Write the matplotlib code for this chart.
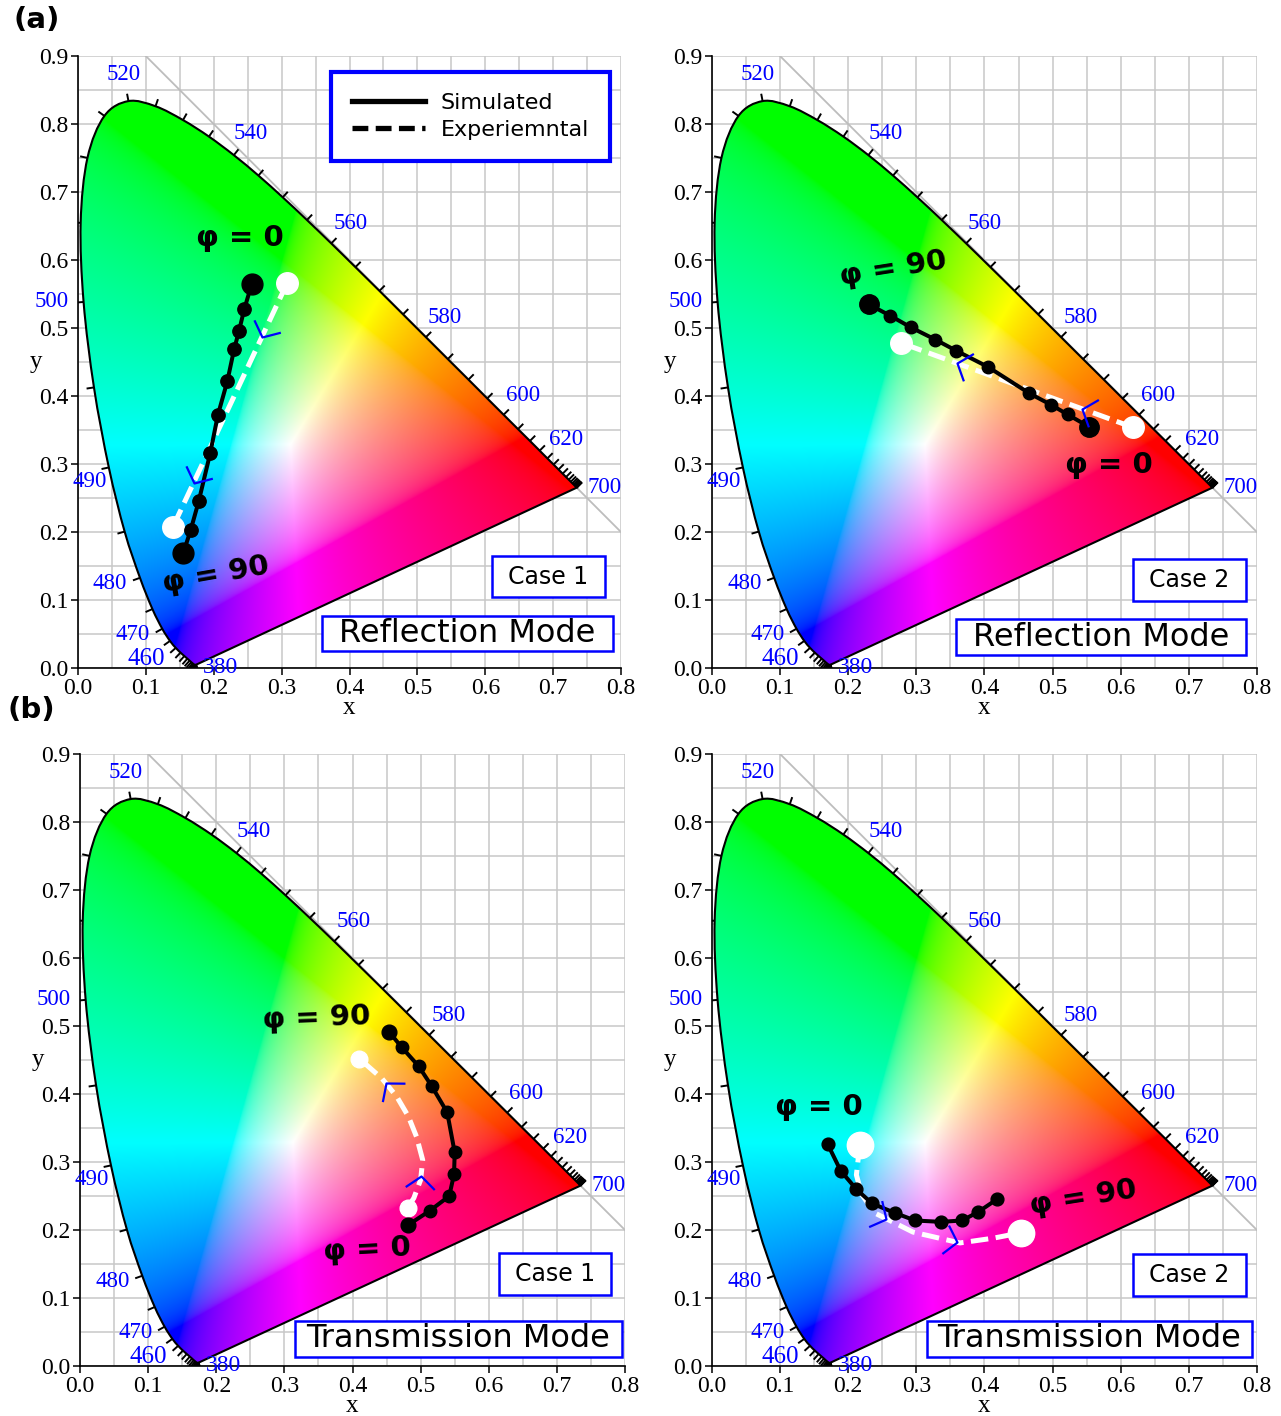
import numpy as np
import matplotlib.pyplot as plt
from matplotlib.path import Path
from matplotlib.patches import PathPatch, Rectangle
from matplotlib.markers import MarkerStyle
from matplotlib.transforms import Affine2D
from matplotlib.lines import Line2D
from matplotlib.collections import LineCollection
from matplotlib.ticker import MultipleLocator, FormatStrFormatter

plt.rcParams["font.family"] = ["Liberation Serif", "DejaVu Serif"]
SANS = "DejaVu Sans"

# CIE 1931 2-degree spectral locus, 380-700 nm every 5 nm
wavelengths = list(range(380, 705, 5))
locus_x = [0.1741, 0.1740, 0.1738, 0.1736, 0.1733, 0.1730, 0.1726, 0.1721, 0.1714,
           0.1703, 0.1689, 0.1669, 0.1644, 0.1611, 0.1566, 0.1510, 0.1440, 0.1355,
           0.1241, 0.1096, 0.0913, 0.0687, 0.0454, 0.0235, 0.0082, 0.0039, 0.0139,
           0.0389, 0.0743, 0.1142, 0.1547, 0.1929, 0.2296, 0.2658, 0.3016, 0.3373,
           0.3731, 0.4087, 0.4441, 0.4788, 0.5125, 0.5448, 0.5752, 0.6029, 0.6270,
           0.6482, 0.6658, 0.6801, 0.6915, 0.7006, 0.7079, 0.7140, 0.7190, 0.7230,
           0.7260, 0.7283, 0.7300, 0.7311, 0.7320, 0.7327, 0.7334, 0.7340, 0.7344,
           0.7346, 0.7347]
locus_y = [0.0050, 0.0050, 0.0049, 0.0049, 0.0048, 0.0048, 0.0048, 0.0048, 0.0051,
           0.0058, 0.0069, 0.0086, 0.0109, 0.0138, 0.0177, 0.0227, 0.0297, 0.0399,
           0.0578, 0.0868, 0.1327, 0.2007, 0.2950, 0.4127, 0.5384, 0.6548, 0.7502,
           0.8120, 0.8338, 0.8262, 0.8059, 0.7816, 0.7543, 0.7243, 0.6923, 0.6589,
           0.6245, 0.5896, 0.5547, 0.5202, 0.4866, 0.4544, 0.4242, 0.3965, 0.3725,
           0.3514, 0.3340, 0.3197, 0.3083, 0.2993, 0.2920, 0.2859, 0.2809, 0.2770,
           0.2740, 0.2717, 0.2700, 0.2689, 0.2680, 0.2673, 0.2666, 0.2660, 0.2656,
           0.2654, 0.2653]
locus_labels = [380, 460, 470, 480, 490, 500, 520, 540, 560, 580, 600, 620, 700]

# trajectories, ordered from phi = 0 to phi = 90
refl1_sim_x = [0.256, 0.245, 0.237, 0.230, 0.220, 0.206, 0.195, 0.178, 0.166, 0.155]
refl1_sim_y = [0.565, 0.528, 0.495, 0.469, 0.422, 0.372, 0.317, 0.246, 0.203, 0.169]
refl1_exp_x = [0.308, 0.140]
refl1_exp_y = [0.566, 0.208]

refl2_sim_x = [0.553, 0.522, 0.498, 0.466, 0.405, 0.358, 0.328, 0.292, 0.262, 0.230]
refl2_sim_y = [0.355, 0.373, 0.387, 0.404, 0.443, 0.467, 0.483, 0.501, 0.518, 0.535]
refl2_exp_x = [0.618, 0.278]
refl2_exp_y = [0.354, 0.478]

trans1_sim_x = [0.481, 0.513, 0.542, 0.549, 0.550, 0.539, 0.516, 0.497, 0.472, 0.454]
trans1_sim_y = [0.207, 0.228, 0.250, 0.282, 0.314, 0.373, 0.412, 0.441, 0.469, 0.491]
trans1_exp_x = [0.481, 0.490, 0.500, 0.503, 0.494, 0.482, 0.465, 0.443, 0.410]
trans1_exp_y = [0.233, 0.247, 0.274, 0.303, 0.337, 0.367, 0.396, 0.423, 0.452]

trans2_sim_x = [0.170, 0.189, 0.212, 0.235, 0.269, 0.298, 0.336, 0.367, 0.390, 0.418]
trans2_sim_y = [0.326, 0.287, 0.260, 0.239, 0.225, 0.214, 0.212, 0.214, 0.226, 0.245]
trans2_exp_x = [0.217, 0.212, 0.220, 0.239, 0.295, 0.364, 0.413, 0.454]
trans2_exp_y = [0.325, 0.281, 0.252, 0.225, 0.197, 0.181, 0.188, 0.196]

panels = [
    dict(rect=[0.0609, 0.5282, 0.4239, 0.4322],
         sim=(refl1_sim_x, refl1_sim_y), exp=(refl1_exp_x, refl1_exp_y),
         ms=(15, 9.6, 15.5), arrows=(0.22, 0.82),
         phi0=(0.239, 0.632, 0), phi90=(0.203, 0.137, 10),
         case="Case 1", case_box=(0.762, 0.116, 0.970, 0.183),
         mode="Reflection Mode", mode_box=(0.449, 0.028, 0.985, 0.085), legend=True),
    dict(rect=[0.5558, 0.5282, 0.4254, 0.4322],
         sim=(refl2_sim_x, refl2_sim_y), exp=(refl2_exp_x, refl2_exp_y),
         ms=(14, 9, 15.5), arrows=(0.22, 0.76),
         phi0=(0.582, 0.299, 0), phi90=(0.266, 0.588, 9),
         case="Case 2", case_box=(0.772, 0.110, 0.980, 0.178),
         mode="Reflection Mode", mode_box=(0.448, 0.021, 0.980, 0.080), legend=False),
    dict(rect=[0.0625, 0.0353, 0.4254, 0.4322],
         sim=(trans1_sim_x, trans1_sim_y), exp=(trans1_exp_x, trans1_exp_y),
         ms=(10.6, 9, 12), arrows=(0.2, 0.79),
         phi0=(0.421, 0.171, 3), phi90=(0.347, 0.512, 2),
         case="Case 1", case_box=(0.769, 0.116, 0.974, 0.185),
         mode="Transmission Mode", mode_box=(0.394, 0.015, 0.994, 0.074), legend=False),
    dict(rect=[0.5558, 0.0353, 0.4254, 0.4322],
         sim=(trans2_sim_x, trans2_sim_y), exp=(trans2_exp_x, trans2_exp_y),
         ms=(9.2, 9.2, 19), arrows=(0.38, 0.71),
         phi0=(0.157, 0.381, 0), phi90=(0.545, 0.247, 9),
         case="Case 2", case_box=(0.772, 0.114, 0.980, 0.183),
         mode="Transmission Mode", mode_box=(0.394, 0.015, 0.991, 0.074), legend=False),
]


def chromaticity_rgb(nx=640, ny=720):
    xs = np.linspace(0, 0.8, nx)
    ys = np.linspace(0, 0.9, ny)
    X, Y = np.meshgrid(xs, ys)
    Yc = np.maximum(Y, 1e-4)
    XYZ = np.stack([X / Yc, np.ones_like(X), (1 - X - Y) / Yc], axis=-1)
    M = np.array([[3.2406, -1.5372, -0.4986],
                  [-0.9689, 1.8758, 0.0415],
                  [0.0557, -0.2040, 1.0570]])
    rgb = np.clip(XYZ @ M.T, 0, None)
    rgb = rgb / (rgb.max(axis=-1, keepdims=True) + 1e-12)
    rgb = np.where(rgb <= 0.0031308, 12.92 * rgb, 1.055 * rgb ** (1 / 2.4) - 0.055)
    return np.clip(rgb, 0, 1)


def smooth_locus_path(xs, ys):
    # Catmull-Rom curve through the locus points, closed by the purple line
    P = np.column_stack([xs, ys])
    n = len(P)
    verts = [P[0]]
    codes = [Path.MOVETO]
    for i in range(n - 1):
        p0 = P[max(i - 1, 0)]
        p1, p2 = P[i], P[i + 1]
        p3 = P[min(i + 2, n - 1)]
        verts += [p1 + (p2 - p0) / 6, p2 - (p3 - p1) / 6, p2]
        codes += [Path.CURVE4] * 3
    verts += [P[0], P[0]]
    codes += [Path.LINETO, Path.CLOSEPOLY]
    return Path(verts, codes)


def point_along(xs, ys, frac):
    xs, ys = np.asarray(xs), np.asarray(ys)
    seg = np.hypot(np.diff(xs), np.diff(ys))
    cum = np.concatenate([[0], np.cumsum(seg)])
    s = frac * cum[-1]
    i = int(np.clip(np.searchsorted(cum, s) - 1, 0, len(seg) - 1))
    t = (s - cum[i]) / seg[i]
    px = xs[i] + t * (xs[i + 1] - xs[i])
    py = ys[i] + t * (ys[i + 1] - ys[i])
    ang = np.degrees(np.arctan2(ys[i + 1] - ys[i], xs[i + 1] - xs[i]))
    return px, py, ang


lx, ly = np.array(locus_x), np.array(locus_y)
tx, ty = np.gradient(lx), np.gradient(ly)
tn = np.hypot(tx, ty)
nxv, nyv = ty / tn, -tx / tn
flip = (lx - 0.3127) * nxv + (ly - 0.329) * nyv < 0
nxv[flip] *= -1
nyv[flip] *= -1
# label placement tweaks near the ends and the blue corner
label_offsets = {380: (0.036, -0.004), 460: (-0.044, -0.016), 470: (-0.043, -0.009),
                 480: (-0.044, -0.008), 490: (-0.028, -0.021), 500: (-0.047, 0.0),
                 700: (0.041, 0.0)}
label_sizes = {380: 17, 460: 18}

locus_path = smooth_locus_path(locus_x, locus_y)

chev = Path([(-0.64, 0.77), (0, 0), (-0.64, -0.77)],
            [Path.MOVETO, Path.LINETO, Path.LINETO])

img = chromaticity_rgb()
fig = plt.figure(figsize=(12.81, 14.16), dpi=100)

for p in panels:
    ax = fig.add_axes(p["rect"])
    ax.set_axisbelow(True)
    ax.xaxis.set_major_locator(MultipleLocator(0.1))
    ax.yaxis.set_major_locator(MultipleLocator(0.1))
    ax.xaxis.set_minor_locator(MultipleLocator(0.05))
    ax.yaxis.set_minor_locator(MultipleLocator(0.05))
    ax.xaxis.set_major_formatter(FormatStrFormatter("%.1f"))
    ax.yaxis.set_major_formatter(FormatStrFormatter("%.1f"))
    ax.grid(True, which="both", color="#c8c8c8", lw=1.1)
    ax.tick_params(which="minor", length=0)
    ax.tick_params(which="major", direction="out", length=5, width=1.1,
                   labelsize=17, pad=2)
    for side in ["top", "right"]:
        ax.spines[side].set_visible(False)
    for side in ["left", "bottom"]:
        ax.spines[side].set_linewidth(1.2)
    ax.set_xlabel("x", fontsize=18, labelpad=-1)
    ax.set_ylabel("y", fontsize=18, labelpad=2, rotation=0, va="center")

    ax.plot([0, 1], [1, 0], color="#bdbdbd", lw=1.3, zorder=0.8)
    im = ax.imshow(img, extent=(0, 0.8, 0, 0.9), origin="lower", aspect="auto",
                   interpolation="bilinear", zorder=1)
    outline = PathPatch(locus_path, facecolor="none", edgecolor="black", lw=1.5, zorder=2)
    ax.add_patch(outline)
    im.set_clip_path(outline)

    tl = 0.011
    segs = [[(x, y), (x + tl * a, y + tl * b)] for x, y, a, b in zip(lx, ly, nxv, nyv)]
    ax.add_collection(LineCollection(segs, colors="black", linewidths=1.4, zorder=2))
    for wl in locus_labels:
        i = wavelengths.index(wl)
        dx, dy = label_offsets.get(wl, (0.04 * nxv[i], 0.04 * nyv[i]))
        ax.text(lx[i] + dx, ly[i] + dy, str(wl), color="blue",
                fontsize=label_sizes.get(wl, 16.5), ha="center", va="center",
                clip_on=False, zorder=3)

    big, small, white = p["ms"]
    ex, ey = p["exp"]
    ax.plot(ex, ey, color="white", lw=3.6, dashes=(3.5, 1.5), zorder=4,
            solid_capstyle="butt", dash_capstyle="butt")
    ax.plot([ex[0], ex[-1]], [ey[0], ey[-1]], "o", color="white", ms=white, zorder=4)
    sx, sy = p["sim"]
    ax.plot(sx, sy, color="black", lw=2.9, zorder=5)
    ax.plot(sx[1:-1], sy[1:-1], "o", color="black", ms=small, zorder=5)
    ax.plot([sx[0], sx[-1]], [sy[0], sy[-1]], "o", color="black", ms=big, zorder=5)

    for f in p["arrows"]:
        px, py, ang = point_along(ex, ey, f)
        m = MarkerStyle(chev, transform=Affine2D().rotate_deg(ang))
        ax.plot(px, py, marker=m, ms=21, mec="blue", mfc="none", mew=1.6, zorder=6)

    for key, txt in [("phi0", "φ = 0"), ("phi90", "φ = 90")]:
        x, y, rot = p[key]
        ax.text(x, y, txt, family=SANS, fontweight="bold", fontsize=21,
                ha="center", va="center", rotation=rot, zorder=7)

    for box, txt, size in [(p["case_box"], p["case"], 17), (p["mode_box"], p["mode"], 23)]:
        x0, y0, x1, y1 = box
        ax.add_patch(Rectangle((x0, y0), x1 - x0, y1 - y0, transform=ax.transAxes,
                               facecolor="white", edgecolor="blue", lw=1.8, zorder=8))
        ax.text((x0 + x1) / 2, (y0 + y1) / 2, txt, transform=ax.transAxes,
                family=SANS, fontsize=size, ha="center", va="center", zorder=9)

    if p["legend"]:
        handles = [Line2D([], [], color="black", lw=3.8),
                   Line2D([], [], color="black", lw=3.8, dashes=(3, 1.4))]
        leg = ax.legend(handles, ["Simulated", "Experiemntal"], loc="upper right",
                        bbox_to_anchor=(0.980, 0.974), borderaxespad=0,
                        prop={"family": SANS, "size": 16},
                        frameon=True, fancybox=False, framealpha=1, edgecolor="blue",
                        borderpad=0.95, handlelength=3.3, handletextpad=0.7,
                        labelspacing=0.3)
        leg.get_frame().set_linewidth(3)
        leg.set_zorder(10)

    ax.set_xlim(0, 0.8)
    ax.set_ylim(0, 0.9)

fig.text(0.0109, 0.9859, "(a)", family=SANS, fontweight="bold", fontsize=21, va="center")
fig.text(0.0062, 0.4986, "(b)", family=SANS, fontweight="bold", fontsize=21, va="center")

fig.savefig("out.png", dpi=100)
